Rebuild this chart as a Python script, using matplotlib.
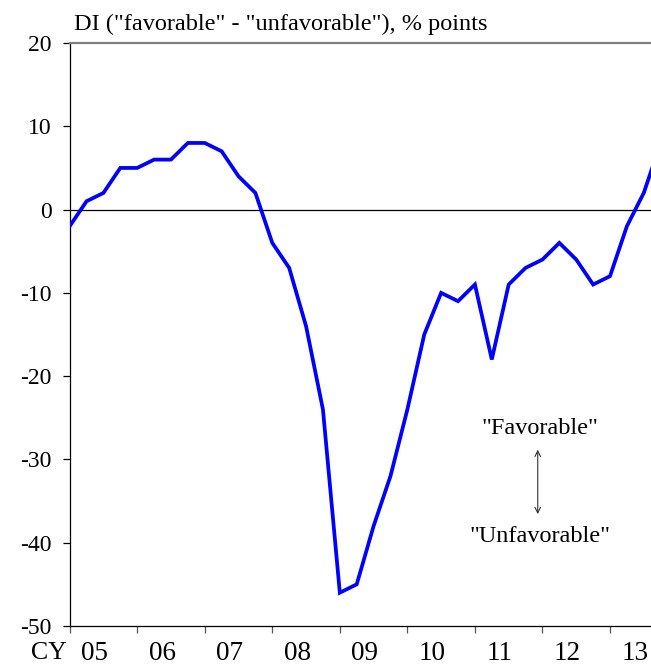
import numpy as np
import matplotlib
matplotlib.use("Agg")
import matplotlib.pyplot as plt
import matplotlib.transforms as mtransforms

plt.rcParams['font.family'] = ['Liberation Serif', 'DejaVu Serif']

# quarterly DI, 2005 Q1 onwards (last point runs off the right edge)
di = [-2, 1, 2, 5, 5, 6, 6, 8, 8, 7, 4, 2,
      -4, -7, -14, -24, -46, -45, -38, -32, -24, -15, -10, -11,
      -9, -18, -9, -7, -6, -4, -6, -9, -8, -2, 2, 8]
start_year = 2005
years = list(range(2005, 2014))
year_labels = ['05', '06', '07', '08', '09', '10', '11', '12', '13']
yticks = [20, 10, 0, -10, -20, -30, -40, -50]

x = start_year + np.arange(len(di)) / 4.0

fig = plt.figure(figsize=(6.51, 6.70), dpi=100)
ax = fig.add_axes([0.107, 0.0657, 0.893, 0.8701])

ax.plot(x, di, color='#0000ff', lw=2.7, solid_joinstyle='miter', zorder=3)
ax.axhline(0, color='black', lw=0.9, zorder=2)

ax.set_xlim(2005, 2013.607)
ax.set_ylim(-50, 20)

# y axis
ax.set_yticks(yticks)
ax.set_yticklabels([str(v) for v in yticks])
ax.tick_params(axis='y', direction='out', length=5, width=0.9, pad=8, labelsize=17)

# x axis: ticks at year boundaries, labels between them
ax.set_xticks(years)
ax.set_xticklabels([])
ax.set_xticks([y + 0.37 for y in years], minor=True)
ax.set_xticklabels(year_labels, minor=True)
ax.tick_params(axis='x', which='major', direction='out', length=5, width=0.9, color='#555555')
ax.tick_params(axis='x', which='minor', length=0, pad=11, labelsize=19.5)
trans = mtransforms.blended_transform_factory(ax.transData, ax.transAxes)
ax.text(2004.69, -0.046, 'CY', transform=trans, ha='center', va='center', fontsize=18.5)

for s in ['left', 'bottom']:
    ax.spines[s].set_color('black')
    ax.spines[s].set_linewidth(0.9)
ax.spines['right'].set_visible(False)
ax.spines['top'].set_color('#808080')
ax.spines['top'].set_linewidth(1.6)

ax.text(2005.07, 21.0, 'DI ("favorable" - "unfavorable"), % points',
        ha='left', va='bottom', fontsize=17.5)

# direction annotation
ax.text(2011.96, -26.3, '"Favorable"', ha='center', va='center', fontsize=17.5)
ax.text(2011.96, -39.2, '"Unfavorable"', ha='center', va='center', fontsize=17.5)
ax.annotate('', xy=(2011.93, -28.5), xytext=(2011.93, -36.9),
            arrowprops=dict(arrowstyle='<->', color='#333333', lw=0.8))

fig.savefig('out.png', dpi=100)
